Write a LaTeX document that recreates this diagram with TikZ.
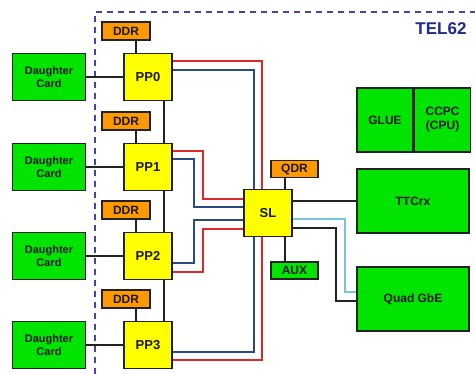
\documentclass[tikz,border=0pt]{standalone}
\usepackage{fontspec}
\setmainfont{Liberation Sans}
\usepackage{tikz}
\usetikzlibrary{positioning, calc}

\definecolor{boardgreen}{HTML}{00E400}
\definecolor{fpgayellow}{HTML}{FFFF00}
\definecolor{memorange}{HTML}{FF9900}
\definecolor{framecol}{HTML}{4A3FB0}
\definecolor{titlecol}{HTML}{1E2A8C}
\definecolor{redlink}{HTML}{E02828}
\definecolor{bluelink}{HTML}{2C4A82}
\definecolor{cyanlink}{HTML}{78C4E0}
\definecolor{edgecol}{HTML}{222222}

\begin{document}
\begin{tikzpicture}[
        x=1pt, y=-1pt,
        every node/.style={font=\bfseries, text=black!90},
        card/.style={draw=edgecol, line width=1.6pt, fill=boardgreen, minimum width=73pt, minimum height=47pt, align=center, font=\bfseries\fontsize{11}{12.5}\selectfont, inner sep=0pt},
        fpga/.style={draw=edgecol, line width=1.6pt, fill=fpgayellow, minimum width=48pt, minimum height=47pt, font=\bfseries\fontsize{13}{14}\selectfont, inner sep=0pt},
        mem/.style={draw=edgecol, line width=1.6pt, fill=memorange, minimum width=48pt, minimum height=18pt, font=\bfseries\fontsize{12}{13}\selectfont, inner sep=0pt},
        board/.style={draw=edgecol, line width=1.6pt, fill=boardgreen, minimum width=112pt, minimum height=64pt, align=center, font=\bfseries\fontsize{12}{14}\selectfont, inner sep=0pt},
        wire/.style={draw=edgecol, line width=1.6pt},
        redwire/.style={draw=redlink, line width=1.6pt},
        bluewire/.style={draw=bluelink, line width=1.6pt},
        cyanwire/.style={draw=cyanlink, line width=1.6pt}
        ]
        \useasboundingbox (0,0) rectangle (475,374);

        % TEL62 board outline
        \draw[framecol, line width=1.6pt, dash pattern=on 6pt off 5pt] (95,374) -- (95,12) -- (475,12);
        \node[anchor=east, text=titlecol, font=\bfseries\fontsize{17}{19}\selectfont] (title) at (470,29) {TEL62};

        % daughter cards, PP FPGAs and their memories
        \foreach \i/\yy in {0/77, 1/167, 2/256, 3/345} {
            \node[card] (card\i) at (49,\yy) {Daughter\\Card};
            \node[fpga] (pp\i) at (148,\yy) {PP\i};
            \node[mem, above=12pt of pp\i.north, xshift=-22pt, anchor=south] (ddr\i) {DDR};
            \draw[wire] (card\i.east) -- (pp\i.west);
            \draw[wire] ($(pp\i.north west)+(13,0)$) coordinate (d\i) -- (d\i |- ddr\i.south);
        }
        \foreach \i/\j in {0/1, 1/2, 2/3}
            \draw[wire] ($(pp\i.south east)+(-9,0)$) -- ($(pp\j.north east)+(-9,0)$);

        % SL FPGA and its neighbours
        \node[fpga] (sl) at (268,213) {SL};
        \node[mem, minimum width=47pt, minimum height=17pt] (qdr) at (294.5,169) {QDR};
        \node[mem, fill=boardgreen, minimum width=47pt, minimum height=17pt] (aux) at (294.5,270.5) {AUX\hspace{10pt}};
        \draw[wire] ($(sl.north east)+(-8,0)$) coordinate (q) -- (q |- qdr.south);
        \draw[wire] ($(sl.south east)+(-8,0)$) coordinate (a) -- (a |- aux.north);

        % right hand boards
        \node[draw=edgecol, line width=1.6pt, fill=boardgreen, minimum width=56pt, minimum height=64pt, font=\bfseries\fontsize{12}{14}\selectfont, inner sep=0pt] (glue) at (385,120) {GLUE};
        \node[draw=edgecol, line width=1.6pt, fill=boardgreen, minimum width=56pt, minimum height=64pt, align=center, font=\bfseries\fontsize{12}{14}\selectfont, inner sep=0pt, right=0pt of glue] (ccpc) {CCPC\\(CPU)};
        \node[board] (ttc) at (413,201) {TTCrx};
        \node[board] (gbe) at (413,299) {Quad GbE};

        % PP to SL links
        \draw[redwire] ($(pp0.north east)+(0,8.5)$) -| ($(sl.north)+(-6,0)$);
        \draw[bluewire] ($(pp0.north east)+(0,17.5)$) -| ($(sl.north)+(-14,0)$);
        \draw[redwire] ($(pp1.north east)+(0,8.5)$) -- ++(30,0) |- ($(sl.west)+(0,-14)$);
        \draw[bluewire] ($(pp1.north east)+(0,16.5)$) -- ++(21,0) |- ($(sl.west)+(0,-6)$);
        \draw[bluewire] ($(pp2.south east)+(0,-17.5)$) -- ++(21,0) |- ($(sl.west)+(0,7)$);
        \draw[redwire] ($(pp2.south east)+(0,-8.5)$) -- ++(30,0) |- ($(sl.west)+(0,16)$);
        \draw[bluewire] ($(sl.south)+(-14,0)$) |- ($(pp3.south east)+(0,-17.5)$);
        \draw[redwire] ($(sl.south)+(-6,0)$) |- ($(pp3.south east)+(0,-9.5)$);

        % SL to boards
        \draw[wire] (ttc.west -| sl.east) -- (ttc.west);
        \draw[cyanwire] ($(sl.east)+(0,6)$) -- ++(52,0) |- ($(gbe.west)+(0,-7)$);
        \draw[wire] ($(sl.east)+(0,15)$) -- ++(43,0) |- ($(gbe.west)+(0,2)$);
    \end{tikzpicture}
\end{document}
